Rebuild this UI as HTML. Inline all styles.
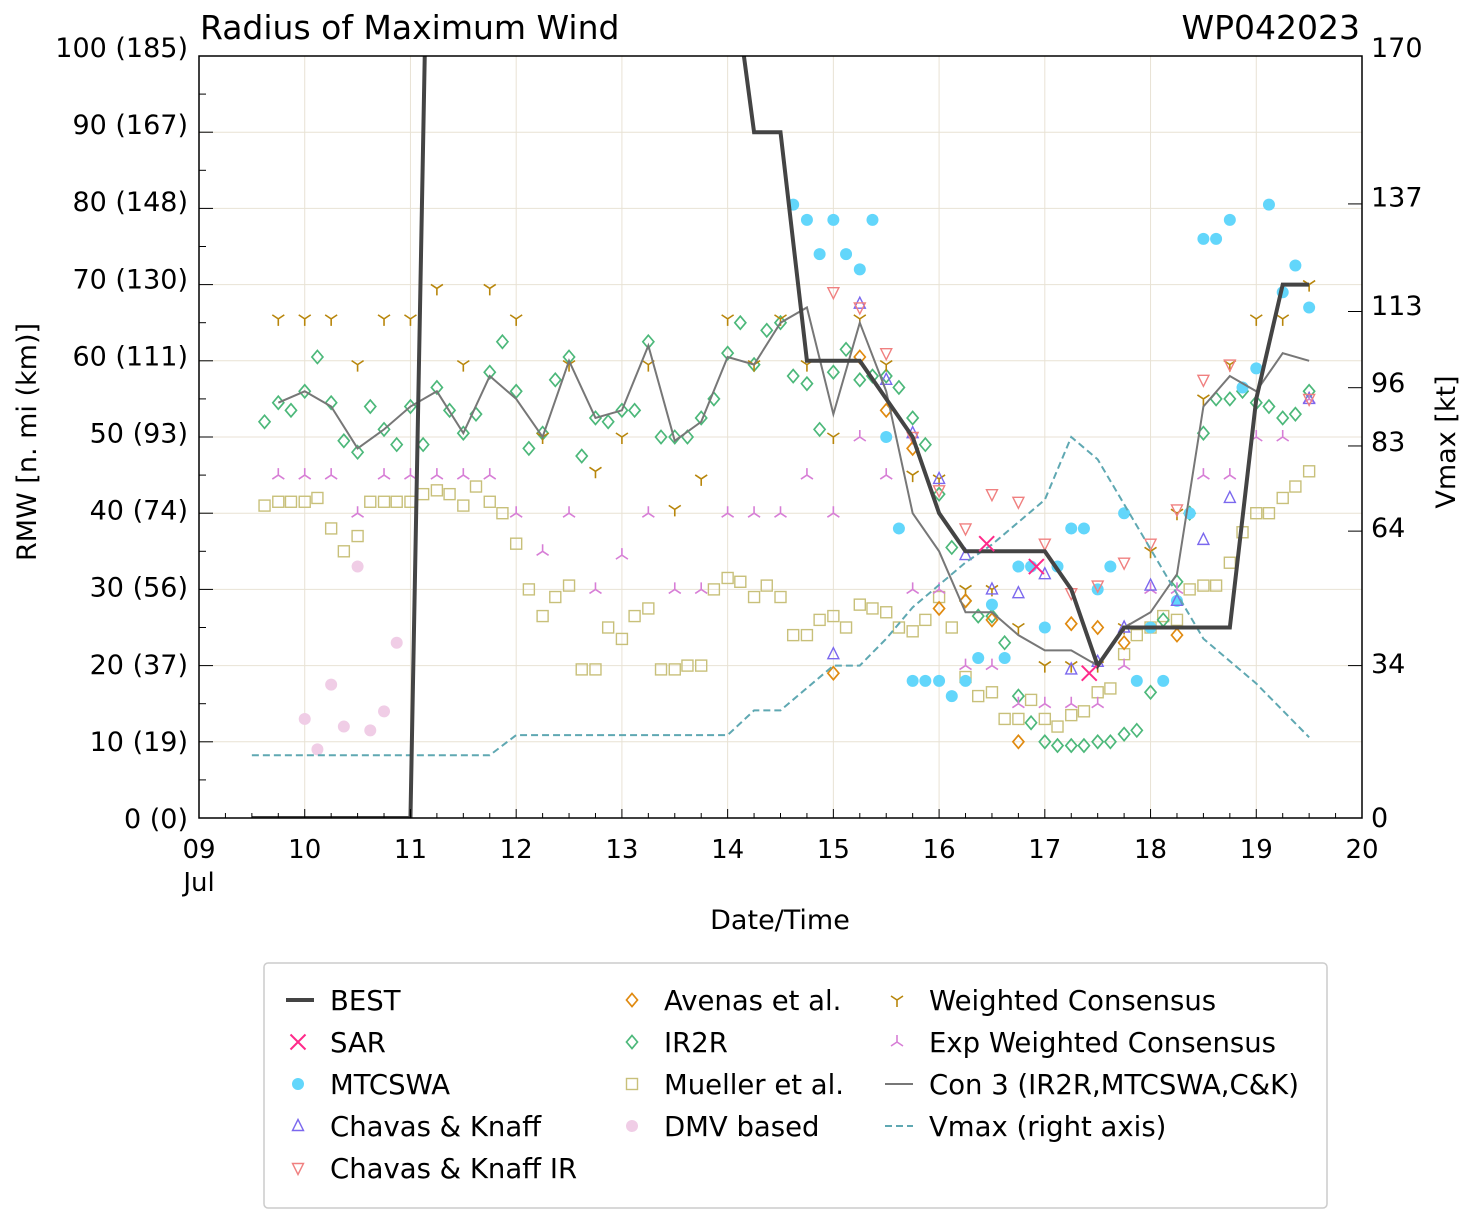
<!DOCTYPE html>
<html><head><meta charset="utf-8"><style>
body{margin:0;background:#fff;}
svg{font-family:"DejaVu Sans","Liberation Sans",sans-serif;}
</style></head><body>
<svg id="c" width="1477" height="1222" xmlns="http://www.w3.org/2000/svg"></svg>
<script>
const bestT=[9.5,9.75,10,10.25,10.5,10.75,11,11.25,11.5,12,13,14,14.25,14.5,14.75,15,15.25,15.5,15.75,16,16.25,16.5,16.75,17,17.25,17.5,17.75,18,18.25,18.5,18.75,19,19.25,19.5];
const bestV=[0,0,0,0,0,0,0,185,185,185,185,116,90,90,60,60,60,55,50,40,35,35,35,35,30,20,25,25,25,25,25,55,70,70];
const vmaxT=[9.5,11.75,12,14,14.25,14.5,15,15.25,15.5,15.75,16,16.25,16.5,16.75,17,17.25,17.5,17.75,18,18.25,18.5,18.75,19,19.25,19.5];
const vmaxV=[14,14,18.5,18.5,24,24,34,34,40,47,52,57,61,66,71,85,80,70,60,50,40,35,30,24,18];
const con3T=[9.75,10,10.25,10.5,10.75,11,11.25,11.5,11.75,12,12.25,12.5,12.75,13,13.25,13.5,13.75,14,14.25,14.5,14.75,15,15.25,15.5,15.75,16,16.25,16.5,16.75,17,17.25,17.5,17.75,18,18.25,18.5,18.75,19,19.25,19.5];
const con3V=[54.5,56,54,48.5,51,54,56,50.5,58,55,50,60,52.5,53.5,62,49.5,52,60.5,59.5,65,67,53,65,56,40,35,27,27,24,22,22,20,25,27,32,54,58,56,61,60];
const ir2rT=[9.62,9.75,9.87,10,10.12,10.25,10.37,10.5,10.62,10.75,10.87,11,11.12,11.25,11.37,11.5,11.62,11.75,11.87,12,12.12,12.25,12.37,12.5,12.62,12.75,12.87,13,13.12,13.25,13.37,13.5,13.62,13.75,13.87,14,14.12,14.25,14.37,14.5,14.62,14.75,14.87,15,15.12,15.25,15.37,15.5,15.62,15.75,15.87,16,16.12,16.25,16.37,16.5,16.62,16.75,16.87,17,17.12,17.25,17.37,17.5,17.62,17.75,17.87,18,18.12,18.25,18.37,18.5,18.62,18.75,18.87,19,19.12,19.25,19.37,19.5];
const ir2rV=[52,54.5,53.5,56,60.5,54.5,49.5,48,54,51,49,54,49,56.5,53.5,50.5,53,58.5,62.5,56,48.5,50.5,57.5,60.5,47.5,52.5,52,53.5,53.5,62.5,50,50,50,52.5,55,61,65,59.5,64,65,58,57,51,58.5,61.5,57.5,58,58,56.5,52.5,49,42.5,35.5,28.5,26.5,26.5,23,16,12.5,10,9.5,9.5,9.5,10,10,11,11.5,16.5,26,31,40,50.5,55,55,56,54.5,54,52.5,53,56,55];
const muelT=ir2rT;
const muelV=[41,41.5,41.5,41.5,42,38,35,37,41.5,41.5,41.5,41.5,42.5,43,42.5,41,43.5,41.5,40,36,30,26.5,29,30.5,19.5,19.5,25,23.5,26.5,27.5,19.5,19.5,20,20,30,31.5,31,29,30.5,29,24,24,26,26.5,25,28,27.5,27,25,24.5,26,29,25,18.5,16,16.5,13,13,15.5,13,12,13.5,14,16.5,17,21.5,24,25,26.5,26,30,30.5,30.5,33.5,37.5,40,40,42,43.5,45.5];
const wcT=[9.75,10,10.25,10.5,10.75,11,11.25,11.5,11.75,12,12.25,12.5,12.75,13,13.25,13.5,13.75,14,14.25,14.5,14.75,15,15.25,15.5,15.75,16,16.25,16.5,16.75,17,17.25,17.5,17.75,18,18.25,18.5,18.75,19,19.25,19.5];
const wcV=[65.5,65.5,65.5,59.5,65.5,65.5,69.5,59.5,69.5,65.5,50,59.5,45.5,50,59.5,40.5,44.5,65.5,59.5,65.5,59.5,50,65.5,59.5,45,44.5,30,30,25,20,20,20,25,35,40,55,59.5,65.5,65.5,70];
const ewcV=[45,45,45,40,45,45,45,45,45,40,35,40,30,34.5,40,30,30,40,40,40,45,40,50,45,30,30,20,20,15,15,15,15,20,30,30,45,45,50,50,55];
const mtT=[14.62,14.75,14.87,15,15.12,15.25,15.37,15.5,15.62,15.75,15.87,16,16.12,16.25,16.37,16.5,16.62,16.75,16.87,17,17.12,17.25,17.37,17.5,17.62,17.75,17.87,18,18.12,18.25,18.37,18.5,18.62,18.75,18.87,19,19.12,19.25,19.37,19.5];
const mtV=[80.5,78.5,74,78.5,74,72,78.5,50,38,18,18,18,16,18,21,28,21,33,33,25,33,38,38,30,33,40,18,25,18,28.5,40,76,76,78.5,56.5,59,80.5,69,72.5,67];
const ckT=[15,15.25,15.5,15.75,16,16.25,16.5,16.75,17,17.25,17.5,17.75,18,18.25,18.5,18.75,19.5];
const ckV=[21.5,67.5,57.5,50.5,44.5,34.5,30,29.5,32,19.5,20.5,25,30.5,28.5,36.5,42,55];
const ckirV=[69,67,61,50,43,38,42.5,41.5,36,29.5,30.5,33.5,36,40.5,57.5,59.5,55];
const avT=[15,15.25,15.5,15.75,16,16.25,16.5,16.75,17.25,17.5,17.75,18.25];
const avV=[19,60.5,53.5,48.5,27.5,28.5,26,10,25.5,25,23,24];
const sarT=[16.45,16.92,17.42];
const sarV=[36,33,19];
const dmvT=[10,10.12,10.25,10.37,10.5,10.62,10.75,10.87];
const dmvV=[13,9,17.5,12,33,11.5,14,23];
const xTicks=[9,10,11,12,13,14,15,16,17,18,19,20];
const yTicks=[0,10,20,30,40,50,60,70,80,90,100];
const yTickLabels=["0 (0)","10 (19)","20 (37)","30 (56)","40 (74)","50 (93)","60 (111)","70 (130)","80 (148)","90 (167)","100 (185)"];
const rTicks=[0,34,64,83,96,113,137,170];

const svg=document.getElementById('c');const NS='http://www.w3.org/2000/svg';
const X0=199,X1=1362,Y0=818,Y1=56;
const sx=d=>X0+(d-9)/11*(X1-X0);
const sy=v=>Y0-v/100*(Y0-Y1);
const sr=v=>Y0-v/170*(Y0-Y1);
const lyL=v=>818-v*7.71;
const lyR=v=>817-v*4.53;
function el(t,a,p){const e=document.createElementNS(NS,t);for(const k in a)e.setAttribute(k,a[k]);(p||svg).appendChild(e);return e;}
function tx(s,x,y,a,p){const e=el('text',Object.assign({x:x,y:y},a),p);e.textContent=s;return e;}
const defs=el('defs',{});const cp=el('clipPath',{id:'pc'},defs);el('rect',{x:X0,y:Y1,width:X1-X0,height:Y0-Y1},cp);
const grid=el('g',{});
xTicks.forEach(d=>el('line',{x1:sx(d),x2:sx(d),y1:Y1,y2:Y0,stroke:'#e8e2d4','stroke-width':1},grid));
yTicks.forEach(v=>el('line',{x1:X0,x2:X1,y1:sy(v),y2:sy(v),stroke:'#e8e2d4','stroke-width':1},grid));
const plot=el('g',{'clip-path':'url(#pc)'});
function line(T,V,f,st,name){const g=el('polyline',Object.assign({points:T.map((t,i)=>sx(t)+','+f(V[i])).join(' '),fill:'none'},st),plot);}
function marker(kind,x,y,c,p){
 const g=p||plot;
 if(kind==='diamond')return el('polygon',{points:`${x},${y-6.5} ${x+5.5},${y} ${x},${y+6.5} ${x-5.5},${y}`,fill:'none',stroke:c,'stroke-width':1.7},g);
 if(kind==='square')return el('rect',{x:x-5.5,y:y-5.5,width:11,height:11,fill:'none',stroke:c,'stroke-width':1.4},g);
 if(kind==='circle')return el('circle',{cx:x,cy:y,r:6,fill:c},g);
 if(kind==='tup')return el('polygon',{points:`${x},${y-6.5} ${x+5.5},${y+4.5} ${x-5.5},${y+4.5}`,fill:'none',stroke:c,'stroke-width':1.4},g);
 if(kind==='tdown')return el('polygon',{points:`${x},${y+6.5} ${x+5.5},${y-4.5} ${x-5.5},${y-4.5}`,fill:'none',stroke:c,'stroke-width':1.4},g);
 if(kind==='x')return el('path',{d:`M${x-7.5},${y-7.5}L${x+7.5},${y+7.5}M${x-7.5},${y+7.5}L${x+7.5},${y-7.5}`,stroke:c,'stroke-width':2},g);
 if(kind==='tri_down')return el('path',{d:`M${x},${y}V${y+7}M${x},${y}L${x-6},${y-4}M${x},${y}L${x+6},${y-4}`,stroke:c,'stroke-width':1.6,fill:'none'},g);
 if(kind==='tri_up')return el('path',{d:`M${x},${y}V${y-7}M${x},${y}L${x-6},${y+4}M${x},${y}L${x+6},${y+4}`,stroke:c,'stroke-width':1.6,fill:'none'},g);
}
function pts(T,V,kind,c,name){T.forEach((t,i)=>{const m=marker(kind,sx(t),sy(V[i]),c);});}
pts(muelT,muelV,'square','#c8c07a','mueller-point');
pts(ir2rT,ir2rV,'diamond','#4cb87a','ir2r-point');
pts(dmvT,dmvV,'circle','#f0cde6','dmv-point');
pts(wcT,wcV,'tri_down','#b8860b','weighted-consensus-point');
pts(wcT,ewcV,'tri_up','#d77ed6','exp-weighted-consensus-point');
pts(mtT,mtV,'circle','#62d6fb','mtcswa-point');
pts(ckT,ckV,'tup','#7b68ee','chavas-knaff-point');
pts(ckT,ckirV,'tdown','#f08080','chavas-knaff-ir-point');
pts(avT,avV,'diamond','#e08a10','avenas-point');
line(con3T,con3V,sy,{stroke:'#777','stroke-width':2},'con3-line');
line(vmaxT,vmaxV,sr,{stroke:'#5fa8b2','stroke-width':2,'stroke-dasharray':'7,4'},'vmax-line');
line(bestT,bestV,sy,{stroke:'#444','stroke-width':4},'best-line');
pts(sarT,sarV,'x','#ff2a8a','sar-point');
el('rect',{x:X0,y:Y1,width:X1-X0,height:Y0-Y1,fill:'none',stroke:'#000','stroke-width':1.5});
const ax=el('g',{});
for(let d=9;d<=20;d+=0.25){const L=Number.isInteger(d)?9:5;el('line',{x1:sx(d),x2:sx(d),y1:Y0,y2:Y0-L,stroke:'#000'},ax);}
for(let v=0;v<=100;v+=5){const L=v%10===0?14:7;el('line',{x1:X0,x2:X0+L,y1:sy(v),y2:sy(v),stroke:'#000'},ax);}
xTicks.forEach(d=>tx(String(d).padStart(2,'0'),sx(d),858,{'font-size':26,'text-anchor':'middle'},ax));
tx('Jul',sx(9),891,{'font-size':26,'text-anchor':'middle'},ax);
yTicks.forEach((v,i)=>tx(yTickLabels[i],188,lyL(v)+10,{'font-size':27,'text-anchor':'end'},ax));
rTicks.forEach(v=>{el('line',{x1:X1,x2:X1-14,y1:sr(v),y2:sr(v),stroke:'#000'},ax);tx(String(v),1371,lyR(v)+10,{'font-size':27},ax);});
tx('Date/Time',780,929,{'font-size':27,'text-anchor':'middle'});
tx('RMW [n. mi (km)]',36,442,{'font-size':27,'text-anchor':'middle',transform:'rotate(-90 36 442)'});
tx('Vmax [kt]',1455,442,{'font-size':27,'text-anchor':'middle',transform:'rotate(-90 1455 442)'});
tx('Radius of Maximum Wind',200,39,{'font-size':33});
tx('WP042023',1360,39,{'font-size':33,'text-anchor':'end'});
const lg=el('g',{});
el('rect',{x:264,y:963,width:1063,height:245,rx:4,fill:'#fff',stroke:'#ccc','stroke-width':1.5},lg);
const L=[[298,1000,'line','#444','BEST'],[298,1042,'x','#ff2a8a','SAR'],[298,1084,'circle','#62d6fb','MTCSWA'],[298,1126,'tup','#7b68ee','Chavas & Knaff'],[298,1168,'tdown','#f08080','Chavas & Knaff IR'],
[632,1000,'diamond','#e08a10','Avenas et al.'],[632,1042,'diamond','#4cb87a','IR2R'],[632,1084,'square','#c8c07a','Mueller et al.'],[632,1126,'circle','#f0cde6','DMV based'],
[897,1000,'tri_down','#b8860b','Weighted Consensus'],[897,1042,'tri_up','#d77ed6','Exp Weighted Consensus'],[897,1084,'gline','#777','Con 3 (IR2R,MTCSWA,C&K)'],[897,1126,'dline','#5fa8b2','Vmax (right axis)']];
L.forEach(e=>{const g=el('g',{},lg);
 const [x,y,k,c,s]=e;
 if(k==='line')el('line',{x1:x-12,x2:x+16,y1:y,y2:y,stroke:c,'stroke-width':4},g);
 else if(k==='gline')el('line',{x1:x-12,x2:x+16,y1:y,y2:y,stroke:c,'stroke-width':2},g);
 else if(k==='dline')el('line',{x1:x-12,x2:x+16,y1:y,y2:y,stroke:c,'stroke-width':2,'stroke-dasharray':'7,4'},g);
 else marker(k,x,y,c,g);
 tx(s,x+32,y+10,{'font-size':27.5},g);});
</script>
</body></html>
